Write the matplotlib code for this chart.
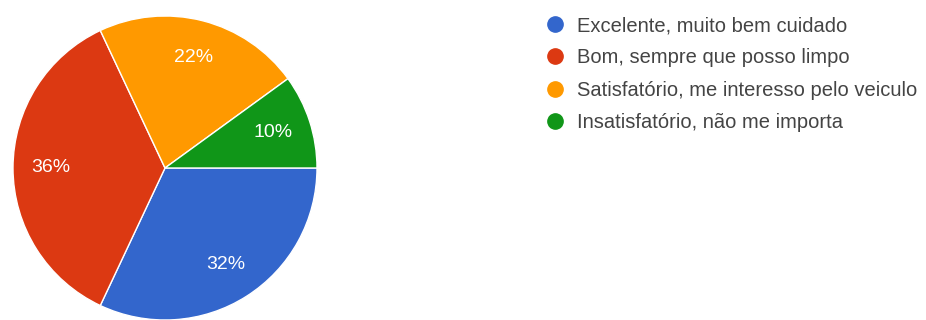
import matplotlib.pyplot as plt
from matplotlib.lines import Line2D

plt.rcParams['font.family'] = ['Liberation Sans', 'DejaVu Sans']

categories = [
    "Excelente, muito bem cuidado",
    "Bom, sempre que posso limpo",
    "Satisfatório, me interesso pelo veiculo",
    "Insatisfatório, não me importa",
]
values = [32, 36, 22, 10]
colors = ["#3366cc", "#dc3912", "#ff9900", "#109618"]

W, H = 926, 320
fig = plt.figure(figsize=(W / 100, H / 100), dpi=100)
fig.patch.set_facecolor("white")

cx, cy, r = 165, 168, 152
ax = fig.add_axes([(cx - r) / W, (H - cy - r) / H, 2 * r / W, 2 * r / H])

wedges, _, autotexts = ax.pie(
    values,
    colors=colors,
    startangle=0,
    counterclock=False,
    radius=1.0,
    autopct="%1.0f%%",
    pctdistance=0.75,
    wedgeprops=dict(edgecolor="white", linewidth=1.0),
    textprops=dict(color="white", fontsize=14),
)
ax.set_xlim(-1, 1)
ax.set_ylim(-1, 1)
ax.set_aspect("equal")
ax.axis("off")

handles = [Line2D([0], [0], marker="o", linestyle="none", markersize=11,
                  markerfacecolor=c, markeredgecolor=c) for c in colors]
leg = fig.legend(handles, categories, loc="upper left",
                 bbox_to_anchor=(545 / W, 1 - 16 / H), frameon=False,
                 fontsize=14.5, handletextpad=0.59, labelspacing=0.66,
                 handlelength=1.0, borderaxespad=0, borderpad=0)
for t in leg.get_texts():
    t.set_color("#444444")

fig.savefig("out.png", dpi=100, facecolor="white")
